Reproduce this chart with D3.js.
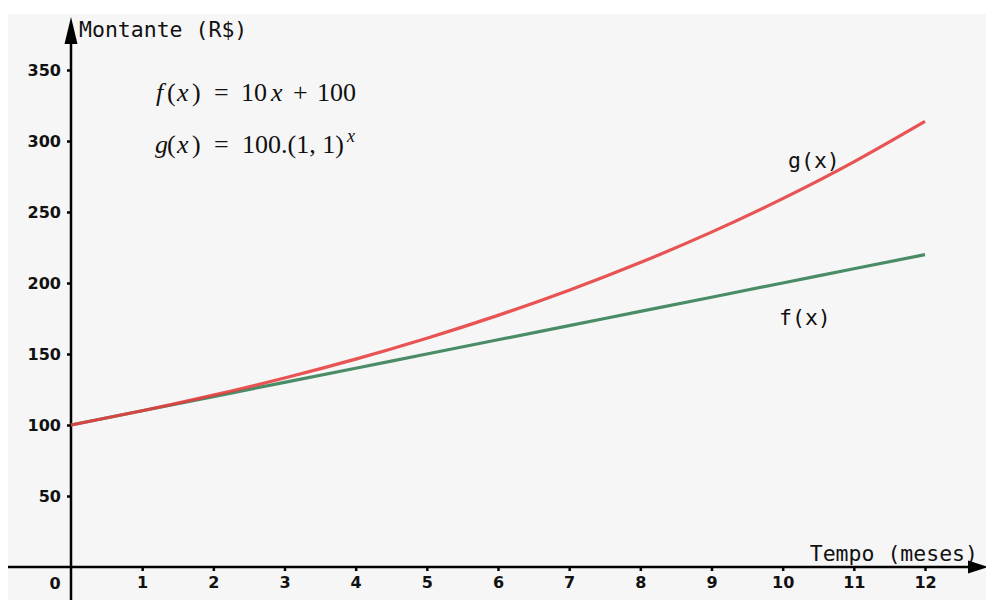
<!DOCTYPE html>
<html>
<head>
<meta charset="utf-8">
<script src="https://cdn.jsdelivr.net/npm/d3@7"></script>
<style>
  body { margin: 0; background: #ffffff; }
  svg { display: block; }
</style>
</head>
<body>
<div id="chart"></div>
<script>
// months on the x axis
const meses = [0, 1, 2, 3, 4, 5, 6, 7, 8, 9, 10, 11, 12];
// f(x) = 10x + 100, read at each month
const fValores = [100, 110, 120, 130, 140, 150, 160, 170, 180, 190, 200, 210, 220];
// g(x) = 100.(1,1)^x, read at each month
const gValores = [100, 110, 121, 133.1, 146.4, 161.1, 177.2, 194.9, 214.4, 235.8, 259.4, 285.3, 313.8];
// tick labels
const xTicks = [1, 2, 3, 4, 5, 6, 7, 8, 9, 10, 11, 12];
const yTicks = [50, 100, 150, 200, 250, 300, 350];

const W = 986, H = 600;

const svg = d3.select("#chart")
  .append("svg")
    .attr("width", W)
    .attr("height", H);

// light gray plotting area (white band at top and left)
svg.append("rect")
  .attr("x", 8).attr("y", 14)
  .attr("width", W - 8).attr("height", H - 14)
  .attr("fill", "#f6f6f6");

// scales
const x = d3.scaleLinear().domain([0, 12]).range([71, 925]);
const y = d3.scaleLinear().domain([0, 350]).range([567, 70]);

// x axis ticks and labels
const xAxis = svg.append("g")
  .attr("transform", "translate(0," + y(0) + ")")
  .call(d3.axisBottom(x).tickValues(xTicks).tickSize(4).tickSizeOuter(0).tickPadding(6));
xAxis.select(".domain").remove();
xAxis.selectAll("line").attr("stroke", "#000").attr("stroke-width", 2.5);
xAxis.selectAll("text")
  .attr("font-family", "DejaVu Sans")
  .attr("font-weight", "bold")
  .attr("font-size", 16)
  .attr("fill", "#111");

// y axis ticks and labels
const yAxis = svg.append("g")
  .attr("transform", "translate(" + x(0) + ",0)")
  .call(d3.axisLeft(y).tickValues(yTicks).tickSize(4).tickSizeOuter(0).tickPadding(6));
yAxis.select(".domain").remove();
yAxis.selectAll("line").attr("stroke", "#000").attr("stroke-width", 2.5);
yAxis.selectAll("text")
  .attr("font-family", "DejaVu Sans")
  .attr("font-weight", "bold")
  .attr("font-size", 16)
  .attr("fill", "#111");

// origin label
svg.append("text")
  .attr("x", 55).attr("y", 589)
  .attr("text-anchor", "middle")
  .attr("font-family", "DejaVu Sans")
  .attr("font-weight", "bold")
  .attr("font-size", 16)
  .attr("fill", "#111")
  .text("0");

// axis lines with arrow heads
svg.append("line")
  .attr("x1", 8).attr("x2", 975)
  .attr("y1", y(0)).attr("y2", y(0))
  .attr("stroke", "#000").attr("stroke-width", 2.5);
svg.append("path")
  .attr("d", "M968," + (y(0) - 6.5) + " L988," + y(0) + " L968," + (y(0) + 6.5) + " Z")
  .attr("fill", "#000");

svg.append("line")
  .attr("x1", x(0)).attr("x2", x(0))
  .attr("y1", 35).attr("y2", H)
  .attr("stroke", "#000").attr("stroke-width", 2.5);
svg.append("path")
  .attr("d", "M" + (x(0) - 6.5) + ",44 L" + x(0) + ",17 L" + (x(0) + 6.5) + ",44 Z")
  .attr("fill", "#000");

// axis titles
svg.append("text")
  .attr("x", 79).attr("y", 37)
  .attr("font-family", "DejaVu Sans Mono")
  .attr("font-size", 21.5)
  .attr("fill", "#111")
  .text("Montante (R$)");

svg.append("text")
  .attr("x", 978).attr("y", 561)
  .attr("text-anchor", "end")
  .attr("font-family", "DejaVu Sans Mono")
  .attr("font-size", 21.5)
  .attr("fill", "#111")
  .text("Tempo (meses)");

// curves
const line = (vals) => d3.line()
  .x((d, i) => x(meses[i]))
  .y(d => y(d))
  .curve(d3.curveNatural)(vals);

svg.append("path")
  .attr("d", line(fValores))
  .attr("fill", "none")
  .attr("stroke", "#4a8c68")
  .attr("stroke-width", 3.2);

svg.append("path")
  .attr("d", line(gValores))
  .attr("fill", "none")
  .attr("stroke", "#e63c3c")
  .attr("stroke-opacity", 0.88)
  .attr("stroke-width", 3.2);

// curve labels
svg.append("text")
  .attr("x", 788).attr("y", 168)
  .attr("font-family", "DejaVu Sans Mono")
  .attr("font-size", 21.5)
  .attr("fill", "#111")
  .text("g(x)");

svg.append("text")
  .attr("x", 779).attr("y", 325)
  .attr("font-family", "DejaVu Sans Mono")
  .attr("font-size", 21.5)
  .attr("fill", "#111")
  .text("f(x)");

// formulas, laid out piece by piece like LaTeX spacing
function formula(yPos, parts) {
  const g = svg.append("g");
  parts.forEach(p => {
    g.append("text")
      .attr("x", p.x)
      .attr("y", p.sup ? yPos - 11 : yPos)
      .attr("font-family", "Liberation Serif")
      .attr("font-style", p.it ? "italic" : "normal")
      .attr("font-size", p.sup ? 18 : 26)
      .attr("fill", "#111")
      .text(p.s);
  });
}

formula(101, [
  { s: "f", it: true, x: 156 }, { s: "(", x: 167 }, { s: "x", it: true, x: 177 },
  { s: ")", x: 192 }, { s: "=", x: 214 }, { s: "10", x: 241 },
  { s: "x", it: true, x: 271 }, { s: "+", x: 293 }, { s: "100", x: 317 }
]);

formula(153, [
  { s: "g", it: true, x: 155 }, { s: "(", x: 167 }, { s: "x", it: true, x: 177 },
  { s: ")", x: 192 }, { s: "=", x: 214 }, { s: "100.(1, 1)", x: 242 },
  { s: "x", it: true, sup: true, x: 347 }
]);
</script>
</body>
</html>
